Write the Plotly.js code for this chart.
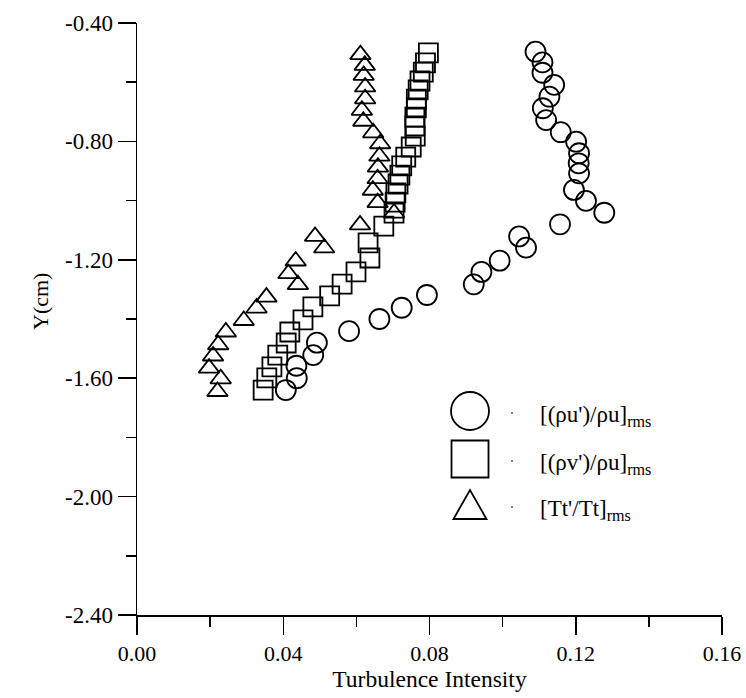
<!DOCTYPE html>
<html>
<head>
<meta charset="utf-8">
<script src="https://cdn.plot.ly/plotly-3.0.1.min.js"></script>
<style>html,body{margin:0;padding:0;background:#fff;}#chart{width:746px;height:698px;}</style>
</head>
<body>
<div id="chart"></div>
<script>
// ---- data ----
const seriesNames = ["[(ρu')/ρu]<sub>rms</sub>", "[(ρv')/ρu]<sub>rms</sub>", "[Tt'/Tt]<sub>rms</sub>"];

const rhoU_x = [0.1090,0.1109,0.1109,0.1141,0.1128,0.1110,0.1119,0.1159,0.1201,0.1209,0.1208,0.1209,0.1195,0.1228,0.1278,0.1157,0.1045,0.1064,0.0992,0.0942,0.0921,0.0793,0.0724,0.0663,0.0580,0.0492,0.0482,0.0436,0.0437,0.0407];
const rhoU_y = [-0.497,-0.533,-0.568,-0.609,-0.649,-0.688,-0.728,-0.769,-0.801,-0.840,-0.874,-0.908,-0.964,-1.001,-1.041,-1.080,-1.121,-1.159,-1.203,-1.241,-1.283,-1.319,-1.362,-1.400,-1.441,-1.480,-1.522,-1.558,-1.600,-1.640];

const rhoV_x = [0.0797,0.0789,0.0783,0.0774,0.0769,0.0764,0.0764,0.0760,0.0760,0.0761,0.0750,0.0735,0.0724,0.0719,0.0714,0.0708,0.0706,0.0703,0.0675,0.0632,0.0637,0.0599,0.0561,0.0527,0.0481,0.0454,0.0418,0.0408,0.0385,0.0369,0.0355,0.0345];
const rhoV_y = [-0.501,-0.535,-0.566,-0.596,-0.626,-0.657,-0.687,-0.718,-0.748,-0.782,-0.819,-0.853,-0.883,-0.914,-0.944,-0.974,-1.005,-1.042,-1.086,-1.143,-1.194,-1.241,-1.282,-1.322,-1.359,-1.403,-1.444,-1.481,-1.522,-1.562,-1.599,-1.640];

const tt_x = [0.0611,0.0623,0.0620,0.0624,0.0624,0.0615,0.0619,0.0646,0.0665,0.0663,0.0659,0.0658,0.0645,0.0658,0.0703,0.0610,0.0487,0.0512,0.0434,0.0414,0.0440,0.0354,0.0327,0.0292,0.0243,0.0222,0.0208,0.0197,0.0229,0.0220];
const tt_y = [-0.507,-0.543,-0.577,-0.616,-0.656,-0.695,-0.732,-0.771,-0.808,-0.850,-0.887,-0.926,-0.965,-1.007,-1.042,-1.082,-1.121,-1.160,-1.204,-1.247,-1.284,-1.326,-1.363,-1.405,-1.444,-1.487,-1.525,-1.566,-1.602,-1.645];

const xTickVals = [0, 0.04, 0.08, 0.12, 0.16];
const xTickText = ["0.00", "0.04", "0.08", "0.12", "0.16"];
const yTickVals = [-2.4, -2.0, -1.6, -1.2, -0.8, -0.4];
const yTickText = ["-2.40", "-2.00", "-1.60", "-1.20", "-0.80", "-0.40"];
const xMinor = [0.02, 0.06, 0.10, 0.14];
const yMinor = [-2.2, -1.8, -1.4, -1.0, -0.6];
const xTitle = 'Turbulence Intensity';
const yTitle = 'Y(cm)';

// ---- layout helpers (pixel -> paper) ----
const L = 137, R = 722, T = 23, B = 615;
const px = x => (x - L) / (R - L);
const py = y => (B - y) / (B - T);

const mk = (sym, size) => ({symbol: sym, size: size, color: '#000', line: {color: '#000', width: 1.8}});

const traces = [
  {x: rhoU_x, y: rhoU_y, mode: 'markers', type: 'scatter', name: seriesNames[0], marker: mk('circle-open', 20), cliponaxis: false},
  {x: rhoV_x, y: rhoV_y, mode: 'markers', type: 'scatter', name: seriesNames[1], marker: mk('square-open', 19), cliponaxis: false},
  {x: tt_x, y: tt_y, mode: 'markers', type: 'scatter', name: seriesNames[2], marker: mk('triangle-up-open', 18), cliponaxis: false}
];

const font = 'Liberation Serif, Times New Roman, serif';
const legRows = [
  {cy: 411, text: seriesNames[0]},
  {cy: 459, text: seriesNames[1]},
  {cy: 505, text: seriesNames[2]}
];
const cx = 470;
const shapes = [
  {type: 'circle', xref: 'paper', yref: 'paper', x0: px(cx - 19), x1: px(cx + 19), y0: py(411 + 19), y1: py(411 - 19), line: {color: '#000', width: 1.8}},
  {type: 'rect', xref: 'paper', yref: 'paper', x0: px(cx - 18.5), x1: px(cx + 18.5), y0: py(459 + 18.5), y1: py(459 - 18.5), line: {color: '#000', width: 1.8}},
  {type: 'path', xref: 'paper', yref: 'paper',
   path: 'M ' + px(cx - 16.5) + ' ' + py(519) + ' L ' + px(cx + 16.5) + ' ' + py(519) + ' L ' + px(cx) + ' ' + py(490) + ' Z',
   line: {color: '#000', width: 1.8}}
];
legRows.forEach(r => {
  shapes.push({type: 'circle', xref: 'paper', yref: 'paper', x0: px(511), x1: px(513), y0: py(r.cy + 3), y1: py(r.cy + 1), fillcolor: '#555', line: {width: 0}});
});
const annotations = legRows.map(r => ({
  xref: 'paper', yref: 'paper', x: px(538), y: py(r.cy + 5), xanchor: 'left', yanchor: 'middle',
  text: r.text, showarrow: false, font: {family: font, size: 23, color: '#000'}
}));
annotations.push({
  xref: 'paper', yref: 'paper', x: px(40), y: py(302), xanchor: 'center', yanchor: 'middle',
  text: yTitle, textangle: -90, showarrow: false, font: {family: font, size: 22, color: '#000'}
});

const axisCommon = {
  showgrid: false, zeroline: false, showline: true, linecolor: '#000', linewidth: 1.5,
  ticks: 'outside', ticklen: 18, tickwidth: 1.5, tickcolor: '#000', tickmode: 'array'
};

const layout = {
  width: 746, height: 698,
  margin: {l: L, r: 746 - R, t: T, b: 698 - B},
  paper_bgcolor: '#fff', plot_bgcolor: '#fff',
  showlegend: false,
  font: {family: font, color: '#000'},
  xaxis: Object.assign({}, axisCommon, {
    range: [0, 0.16], tickvals: xTickVals, ticktext: xTickText,
    tickfont: {family: font, size: 22, color: '#000'},
    minor: {tickvals: xMinor, ticks: 'outside', ticklen: 10, tickwidth: 1.5, tickcolor: '#000', showgrid: false},
    title: {text: xTitle, font: {family: font, size: 23.5, color: '#000'}, standoff: 0}
  }),
  yaxis: Object.assign({}, axisCommon, {
    range: [-2.4, -0.4], tickvals: yTickVals, ticktext: yTickText,
    tickfont: {family: font, size: 23, color: '#000'},
    minor: {tickvals: yMinor, ticks: 'outside', ticklen: 10, tickwidth: 1.5, tickcolor: '#000', showgrid: false}
  }),
  shapes: shapes,
  annotations: annotations
};

Plotly.newPlot('chart', traces, layout, {displayModeBar: false, staticPlot: true});
</script>
</body>
</html>
